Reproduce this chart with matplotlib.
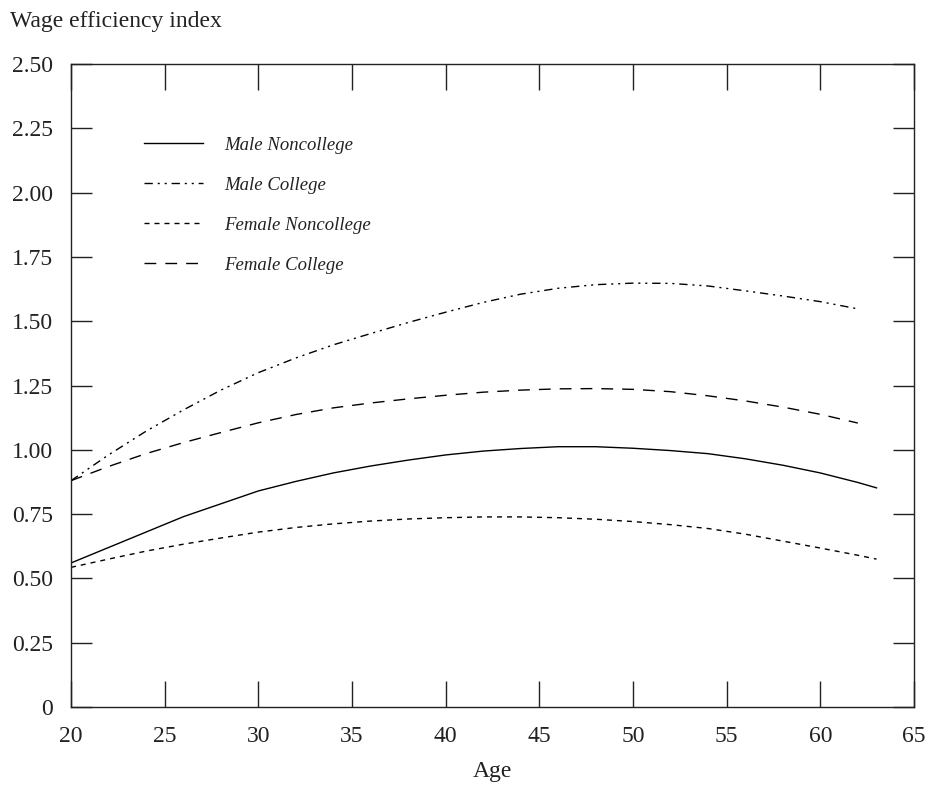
import numpy as np
import matplotlib
matplotlib.use("Agg")
import matplotlib.pyplot as plt
from matplotlib import rc

rc('font', **{'family': 'serif', 'serif': ['Liberation Serif', 'DejaVu Serif'], 'size': 17})

# wage efficiency profiles by age
ages = [20, 22, 24, 26, 28, 30, 32, 34, 36, 38, 40, 42, 44, 46, 48, 50, 52, 54, 56, 58, 60, 62]
ages_long = ages + [63]

male_noncollege = [0.56, 0.62, 0.68, 0.74, 0.79, 0.84, 0.877, 0.91, 0.937, 0.96, 0.98, 0.995,
                   1.005, 1.012, 1.012, 1.006, 0.997, 0.985, 0.965, 0.94, 0.91, 0.873, 0.852]
male_college = [0.88, 0.98, 1.072, 1.155, 1.232, 1.30, 1.357, 1.408, 1.452, 1.495, 1.535, 1.573,
                1.605, 1.628, 1.642, 1.648, 1.647, 1.637, 1.618, 1.598, 1.576, 1.548]
female_noncollege = [0.543, 0.575, 0.606, 0.633, 0.657, 0.68, 0.698, 0.712, 0.723, 0.731, 0.736, 0.739,
                     0.739, 0.736, 0.73, 0.721, 0.709, 0.694, 0.672, 0.645, 0.618, 0.59, 0.575]
female_college = [0.88, 0.935, 0.985, 1.028, 1.067, 1.105, 1.137, 1.163, 1.182, 1.198, 1.212, 1.224,
                  1.232, 1.237, 1.238, 1.235, 1.226, 1.21, 1.19, 1.166, 1.138, 1.104]

labels = ['Male Noncollege', 'Male College', 'Female Noncollege', 'Female College']

xticks = np.arange(20, 65.1, 5)
yticks = np.arange(0, 2.501, 0.25)
yticklabels = ['0'] + ['%.2f' % v for v in yticks[1:]]

fig = plt.figure(figsize=(9.3, 7.9), dpi=100)
ax = fig.add_axes([71/930, 1 - 707/790, (914 - 71)/930, (707 - 64)/790])

ax.plot(ages_long, male_noncollege, c='k', lw=1.0, ls='-', label=labels[0])
ax.plot(ages, male_college, c='k', lw=1.0, ls=(0, (6, 3.5, 1.5, 3.5, 1.5, 3.5)), label=labels[1])
ax.plot(ages_long, female_noncollege, c='k', lw=1.0, ls=(0, (3.6, 3.6)), label=labels[2])
ax.plot(ages, female_college, c='k', lw=1.0, ls=(0, (8.5, 6.5)), label=labels[3])

ax.set_xlim(20, 65)
ax.set_ylim(0, 2.5)
ax.set_xticks(xticks)
ax.set_yticks(yticks)
ax.set_yticklabels(yticklabels)
ax.tick_params(axis='both', direction='in', top=True, right=True, colors='#222222',
               labelcolor='#222222', width=1.0)
ax.tick_params(axis='x', length=19, pad=14)
ax.tick_params(axis='y', length=15, pad=13)
for s in ax.spines.values():
    s.set_linewidth(1.0)
    s.set_color('#222222')

ax.set_xlabel('Age', color='#222222', labelpad=10)
fig.text(10/930, 1 - 21/790, 'Wage efficiency index', va='center', ha='left', color='#222222')

leg = ax.legend(loc='upper left', bbox_to_anchor=(0.0665, 0.913), frameon=False, ncol=1,
                prop={'style': 'italic', 'size': 13.5}, handlelength=3.15, handletextpad=1.12,
                labelspacing=1.22)
for t in leg.get_texts():
    t.set_color('#222222')

plt.savefig('out.png', dpi=100)
